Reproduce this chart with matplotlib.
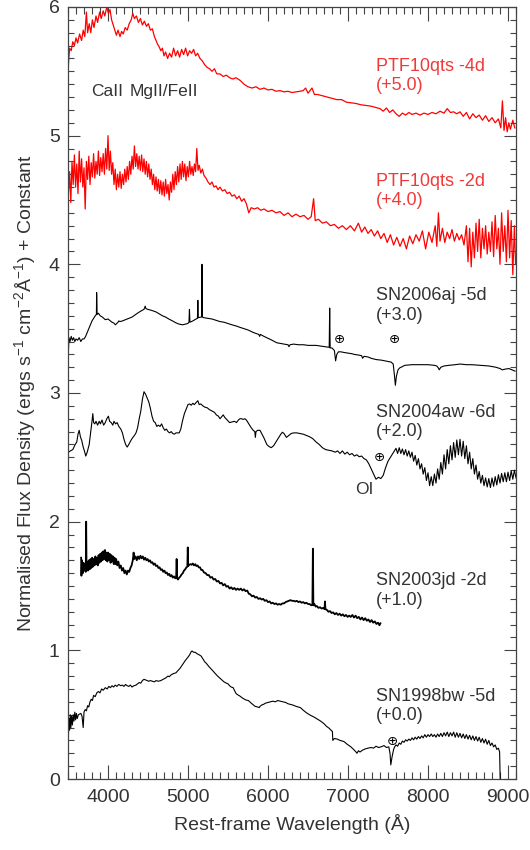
import numpy as np
import matplotlib
matplotlib.use("Agg")
import matplotlib.pyplot as plt
from matplotlib.ticker import MultipleLocator

plt.rcParams["font.family"] = ["Liberation Sans", "DejaVu Sans"]
plt.rcParams["mathtext.fontset"] = "custom"
plt.rcParams["mathtext.rm"] = "Liberation Sans"
plt.rcParams["mathtext.default"] = "regular"

# -----------------------------------
# spectra (offset already added)
# -----------------------------------

# PTF10qts -4d (+5.0)
wl_ptf4 = [3505, 3520, 3540, 3560, 3580, 3600, 3620, 3645, 3670, 3690, 3710, 3730, 3745, 3765, 3785,
           3805, 3825, 3850, 3870, 3895, 3915, 3940, 3960, 3985, 4005, 4025, 4045, 4065, 4085, 4105,
           4125, 4150, 4170, 4190, 4215, 4240, 4265, 4290, 4310, 4330, 4355, 4380, 4405, 4430, 4455,
           4480, 4505, 4530, 4555, 4580, 4600, 4620, 4640, 4660, 4680, 4700, 4720, 4745, 4770, 4795,
           4820, 4845, 4870, 4895, 4920, 4945, 4970, 4995, 5020, 5045, 5070, 5095, 5120, 5150, 5180,
           5210, 5240, 5270, 5300, 5330, 5360, 5400, 5440, 5480, 5520, 5560, 5600, 5650, 5700, 5750,
           5800, 5850, 5900, 5950, 6000, 6050, 6100, 6150, 6200, 6250, 6300, 6350, 6400, 6440, 6470,
           6500, 6550, 6580, 6620, 6680, 6740, 6800, 6860, 6920, 6980, 7040, 7100, 7160, 7220, 7280,
           7340, 7400, 7440, 7480, 7520, 7560, 7600, 7640, 7680, 7720, 7760, 7800, 7850, 7900, 7950,
           8000, 8050, 8100, 8150, 8200, 8240, 8280, 8320, 8360, 8400, 8440, 8480, 8520, 8560, 8600,
           8640, 8680, 8720, 8760, 8800, 8840, 8880, 8910, 8930, 8950, 8970, 8990, 9010, 9030, 9060,
           9085]
fl_ptf4 = [5.55, 5.68, 5.66, 5.73, 5.70, 5.76, 5.72, 5.79, 5.74, 5.82, 5.77, 5.96, 5.80, 5.87, 5.80,
           5.90, 5.84, 5.93, 5.88, 5.96, 5.91, 5.97, 5.93, 6.00, 5.95, 5.98, 5.90, 5.86, 5.82, 5.78,
           5.82, 5.77, 5.81, 5.79, 5.84, 5.82, 5.87, 5.90, 5.95, 5.91, 5.93, 5.88, 5.91, 5.86, 5.89,
           5.85, 5.87, 5.82, 5.83, 5.77, 5.74, 5.71, 5.69, 5.66, 5.68, 5.62, 5.65, 5.60, 5.64, 5.61,
           5.68, 5.62, 5.66, 5.61, 5.67, 5.63, 5.68, 5.62, 5.66, 5.64, 5.67, 5.62, 5.64, 5.60, 5.58,
           5.55, 5.53, 5.52, 5.50, 5.52, 5.48, 5.48, 5.46, 5.47, 5.45, 5.44, 5.45, 5.43, 5.40, 5.38,
           5.37, 5.38, 5.36, 5.37, 5.355, 5.36, 5.345, 5.35, 5.34, 5.345, 5.335, 5.34, 5.345, 5.35, 5.37,
           5.33, 5.37, 5.32, 5.32, 5.31, 5.30, 5.29, 5.28, 5.28, 5.26, 5.255, 5.25, 5.24, 5.235, 5.23,
           5.22, 5.21, 5.19, 5.215, 5.18, 5.20, 5.17, 5.15, 5.175, 5.16, 5.18, 5.165, 5.175, 5.16, 5.175,
           5.165, 5.18, 5.17, 5.19, 5.175, 5.21, 5.18, 5.185, 5.17, 5.185, 5.15, 5.18, 5.13, 5.17, 5.14,
           5.16, 5.12, 5.155, 5.11, 5.14, 5.10, 5.13, 5.06, 5.27, 5.04, 5.14, 5.03, 5.10, 5.05, 5.12,
           5.06]

# PTF10qts -2d (+4.0)
wl_ptf2 = [3505, 3520, 3535, 3550, 3565, 3580, 3595, 3610, 3625, 3640, 3655, 3670, 3685, 3700, 3715,
           3730, 3745, 3760, 3775, 3790, 3805, 3820, 3835, 3850, 3865, 3880, 3895, 3910, 3925, 3940,
           3955, 3970, 3985, 4000, 4015, 4030, 4045, 4060, 4075, 4090, 4105, 4120, 4135, 4150, 4165,
           4180, 4195, 4210, 4225, 4240, 4255, 4270, 4285, 4300, 4315, 4330, 4345, 4360, 4375, 4390,
           4405, 4420, 4435, 4450, 4465, 4480, 4495, 4510, 4525, 4540, 4555, 4570, 4585, 4600, 4615,
           4630, 4645, 4660, 4675, 4690, 4705, 4720, 4735, 4750, 4765, 4780, 4795, 4810, 4825, 4840,
           4855, 4870, 4885, 4900, 4915, 4930, 4945, 4960, 4975, 4990, 5005, 5020, 5035, 5050, 5065,
           5080, 5095, 5110, 5125, 5140, 5160, 5180, 5200, 5225, 5250, 5275, 5300, 5325, 5350, 5375,
           5400, 5430, 5460, 5490, 5520, 5550, 5580, 5610, 5640, 5670, 5700, 5730, 5760, 5790, 5830,
           5870, 5910, 5950, 6000, 6050, 6100, 6150, 6200, 6250, 6300, 6350, 6400, 6450, 6500, 6540,
           6570, 6590, 6630, 6680, 6730, 6780, 6830, 6880, 6930, 6980, 7030, 7080, 7130, 7170, 7210,
           7250, 7290, 7330, 7370, 7410, 7450, 7490, 7530, 7570, 7610, 7650, 7690, 7730, 7770, 7810,
           7850, 7890, 7930, 7970, 8010, 8050, 8090, 8110, 8130, 8150, 8180, 8210, 8240, 8270, 8300,
           8330, 8360, 8390, 8420, 8450, 8480, 8500, 8520, 8540, 8560, 8580, 8600, 8620, 8640, 8660,
           8680, 8700, 8720, 8740, 8760, 8780, 8800, 8820, 8840, 8860, 8880, 8900, 8920, 8940, 8960,
           8980, 9000, 9020, 9040, 9060, 9080, 9095]
fl_ptf2 = [4.55, 4.72, 4.48, 4.80, 4.62, 4.85, 4.60, 4.78, 4.55, 4.88, 4.64, 4.82, 4.60, 4.75, 4.43,
           4.80, 4.66, 4.84, 4.62, 4.79, 4.68, 4.86, 4.67, 4.80, 4.70, 4.88, 4.69, 4.83, 4.72, 4.86,
           4.70, 4.90, 4.74, 5.00, 4.73, 4.88, 4.70, 4.79, 4.62, 4.74, 4.58, 4.70, 4.60, 4.72, 4.59,
           4.70, 4.62, 4.74, 4.64, 4.76, 4.66, 4.80, 4.70, 4.84, 4.74, 4.92, 4.76, 4.86, 4.74, 4.84,
           4.73, 4.85, 4.72, 4.82, 4.70, 4.80, 4.68, 4.78, 4.66, 4.74, 4.62, 4.70, 4.58, 4.68, 4.57,
           4.66, 4.55, 4.65, 4.54, 4.64, 4.53, 4.66, 4.55, 4.62, 4.50, 4.64, 4.56, 4.70, 4.58, 4.72,
           4.62, 4.76, 4.64, 4.78, 4.66, 4.80, 4.68, 4.78, 4.65, 4.76, 4.68, 4.80, 4.70, 4.76, 4.69,
           4.78, 4.72, 4.90, 4.73, 4.77, 4.71, 4.74, 4.69, 4.67, 4.64, 4.62, 4.64, 4.60, 4.61, 4.58,
           4.60, 4.57, 4.58, 4.55, 4.56, 4.53, 4.54, 4.51, 4.53, 4.49, 4.51, 4.47, 4.40, 4.44, 4.43,
           4.44, 4.42, 4.43, 4.41, 4.42, 4.40, 4.41, 4.38, 4.40, 4.37, 4.39, 4.37, 4.38, 4.35, 4.37,
           4.51, 4.34, 4.35, 4.32, 4.33, 4.30, 4.31, 4.28, 4.30, 4.27, 4.30, 4.26, 4.32, 4.25, 4.29,
           4.24, 4.27, 4.22, 4.26, 4.20, 4.24, 4.17, 4.23, 4.15, 4.21, 4.14, 4.20, 4.12, 4.22, 4.16,
           4.23, 4.18, 4.26, 4.12, 4.25, 4.17, 4.30, 4.14, 4.40, 4.18, 4.28, 4.17, 4.25, 4.20, 4.27,
           4.18, 4.24, 4.19, 4.23, 4.15, 4.30, 4.02, 4.28, 3.98, 4.25, 4.05, 4.32, 4.10, 4.35, 4.05,
           4.28, 4.12, 4.30, 4.08, 4.25, 4.10, 4.33, 4.06, 4.38, 4.12, 4.28, 4.00, 4.40, 4.10, 4.30,
           4.02, 4.42, 4.05, 4.34, 3.92, 4.30, 4.00]

# SN2006aj -5d (+3.0)
wl_06aj = [3505, 3512, 3525, 3540, 3555, 3570, 3585, 3600, 3620, 3640, 3660, 3680, 3700, 3720, 3740,
           3760, 3780, 3800, 3820, 3840, 3855, 3858, 3864, 3880, 3903, 3930, 3966, 4000, 4030, 4050,
           4070, 4093, 4110, 4125, 4135, 4150, 4180, 4219, 4260, 4300, 4345, 4380, 4420, 4450, 4465,
           4475, 4500, 4530, 4555, 4600, 4640, 4681, 4720, 4760, 4807, 4850, 4890, 4933, 4965, 4997,
           5012, 5018, 5024, 5060, 5100, 5118, 5123, 5128, 5160, 5170, 5175, 5180, 5200, 5250, 5300,
           5350, 5400, 5450, 5500, 5550, 5606, 5650, 5700, 5750, 5817, 5860, 5885, 5895, 5905, 5950,
           6000, 6050, 6111, 6160, 6200, 6250, 6262, 6275, 6320, 6380, 6447, 6500, 6550, 6600, 6658,
           6720, 6765, 6771, 6777, 6800, 6830, 6845, 6860, 6880, 6910, 6950, 7000, 7050, 7078, 7130,
           7170, 7183, 7200, 7250, 7288, 7350, 7420, 7499, 7540, 7565, 7580, 7592, 7605, 7625, 7646,
           7680, 7709, 7800, 7919, 8000, 8080, 8110, 8129, 8140, 8160, 8200, 8260, 8340, 8400, 8480,
           8550, 8650, 8760, 8850, 8900, 8928, 8960, 9012, 9050, 9088]
fl_06aj = [3.32, 3.43, 3.40, 3.44, 3.41, 3.43, 3.40, 3.42, 3.41, 3.43, 3.40, 3.42, 3.42, 3.44, 3.47,
           3.50, 3.53, 3.56, 3.58, 3.60, 3.61, 3.78, 3.61, 3.62, 3.60, 3.59, 3.57, 3.575, 3.56, 3.55,
           3.545, 3.53, 3.54, 3.55, 3.56, 3.555, 3.56, 3.57, 3.58, 3.59, 3.61, 3.625, 3.64, 3.65, 3.675,
           3.655, 3.65, 3.645, 3.64, 3.63, 3.615, 3.60, 3.59, 3.575, 3.56, 3.545, 3.535, 3.53, 3.535, 3.54,
           3.55, 3.65, 3.55, 3.56, 3.575, 3.58, 3.72, 3.585, 3.59, 3.59, 4.00, 3.59, 3.585, 3.58, 3.575,
           3.565, 3.555, 3.55, 3.54, 3.53, 3.52, 3.51, 3.50, 3.49, 3.47, 3.46, 3.455, 3.44, 3.455, 3.44,
           3.425, 3.41, 3.39, 3.385, 3.38, 3.375, 3.36, 3.375, 3.38, 3.375, 3.375, 3.37, 3.37, 3.37, 3.365,
           3.36, 3.355, 3.66, 3.35, 3.35, 3.33, 3.25, 3.30, 3.32, 3.32, 3.315, 3.31, 3.305, 3.30, 3.295,
           3.29, 3.27, 3.285, 3.28, 3.27, 3.26, 3.255, 3.245, 3.24, 3.225, 3.14, 3.06, 3.13, 3.18, 3.195,
           3.205, 3.215, 3.22, 3.22, 3.22, 3.215, 3.21, 3.195, 3.18, 3.20, 3.21, 3.215, 3.22, 3.225, 3.22,
           3.22, 3.215, 3.21, 3.20, 3.19, 3.18, 3.185, 3.19, 3.18, 3.17]

# SN2004aw -6d (+2.0)
wl_04aw = [3505, 3530, 3560, 3590, 3610, 3625, 3640, 3655, 3672, 3690, 3705, 3722, 3740, 3765, 3785,
           3800, 3810, 3820, 3835, 3850, 3870, 3890, 3905, 3925, 3945, 3966, 3985, 4005, 4020, 4040,
           4060, 4075, 4095, 4114, 4135, 4160, 4180, 4200, 4220, 4240, 4260, 4285, 4305, 4330, 4350,
           4370, 4390, 4410, 4430, 4450, 4470, 4490, 4510, 4530, 4550, 4570, 4590, 4610, 4630, 4650,
           4670, 4690, 4710, 4730, 4750, 4770, 4790, 4810, 4830, 4850, 4870, 4890, 4910, 4930, 4955,
           4980, 5000, 5020, 5040, 5060, 5080, 5100, 5123, 5140, 5160, 5186, 5210, 5240, 5270, 5300,
           5330, 5354, 5380, 5400, 5420, 5440, 5460, 5490, 5520, 5550, 5580, 5606, 5630, 5650, 5670,
           5690, 5710, 5730, 5760, 5790, 5815, 5835, 5842, 5850, 5870, 5900, 5925, 5950, 5985, 6010,
           6040, 6070, 6100, 6130, 6160, 6180, 6200, 6230, 6260, 6290, 6320, 6360, 6400, 6440, 6480,
           6520, 6560, 6600, 6640, 6680, 6720, 6760, 6800, 6840, 6870, 6900, 6930, 6960, 6990, 7020,
           7050, 7080, 7110, 7140, 7170, 7200, 7230, 7260, 7290, 7320, 7350, 7380, 7410, 7440, 7470,
           7500, 7530, 7560, 7580,
           7600, 7620, 7640, 7660, 7680, 7700, 7720, 7740, 7760, 7780, 7800, 7820, 7840, 7860, 7880,
           7900, 7920, 7940, 7960, 7980, 8000, 8020, 8040, 8060, 8080, 8100, 8120, 8140, 8160, 8180,
           8200, 8220, 8240, 8260, 8280, 8300, 8320, 8340, 8360, 8380, 8400, 8420, 8440, 8460, 8480,
           8500, 8520, 8540, 8560, 8580, 8600, 8620, 8640, 8660, 8680, 8700, 8720, 8740, 8760, 8780,
           8800, 8820, 8840, 8860, 8880, 8900, 8920, 8940, 8960, 8980, 9000, 9020, 9040, 9060, 9080,
           9100]
fl_04aw = [2.54, 2.55, 2.56, 2.60, 2.62, 2.68, 2.71, 2.66, 2.63, 2.58, 2.55, 2.51, 2.54, 2.60, 2.70,
           2.78, 2.84, 2.77, 2.76, 2.78, 2.75, 2.78, 2.76, 2.79, 2.75, 2.77, 2.80, 2.82, 2.78, 2.77,
           2.75, 2.78, 2.76, 2.77, 2.74, 2.72, 2.69, 2.64, 2.60, 2.58, 2.60, 2.63, 2.65, 2.67, 2.69,
           2.73, 2.80, 2.86, 2.95, 3.01, 2.99, 2.96, 2.93, 2.88, 2.82, 2.78, 2.77, 2.74, 2.75, 2.74,
           2.76, 2.73, 2.71, 2.72, 2.70, 2.69, 2.70, 2.685, 2.68, 2.69, 2.69, 2.69, 2.72, 2.78, 2.84,
           2.88, 2.91, 2.915, 2.905, 2.92, 2.91, 2.925, 2.94, 2.91, 2.915, 2.90, 2.89, 2.885, 2.87, 2.86,
           2.85, 2.83, 2.82, 2.80, 2.815, 2.83, 2.81, 2.79, 2.77, 2.775, 2.78, 2.77, 2.79, 2.80, 2.80,
           2.795, 2.80, 2.79, 2.76, 2.73, 2.71, 2.70, 2.655, 2.70, 2.71, 2.71, 2.68, 2.65, 2.60, 2.585,
           2.575, 2.59, 2.62, 2.65, 2.68, 2.695, 2.685, 2.655, 2.67, 2.685, 2.69, 2.69, 2.685, 2.68, 2.67,
           2.66, 2.645, 2.62, 2.60, 2.575, 2.56, 2.555, 2.55, 2.54, 2.55, 2.53, 2.55, 2.525, 2.54, 2.52,
           2.53, 2.51, 2.52, 2.505, 2.51, 2.49, 2.48, 2.45, 2.41, 2.37, 2.33, 2.345, 2.335, 2.36, 2.42,
           2.47, 2.50, 2.53, 2.55,
           2.57, 2.53, 2.575, 2.53, 2.565, 2.52, 2.56, 2.51, 2.55, 2.50, 2.54, 2.47, 2.515, 2.44, 2.49,
           2.41, 2.45, 2.37, 2.42, 2.32, 2.38, 2.28, 2.35, 2.28, 2.37, 2.30, 2.41, 2.33, 2.46, 2.37,
           2.52, 2.41, 2.56, 2.45, 2.59, 2.48, 2.615, 2.50, 2.635, 2.52, 2.64, 2.51, 2.625, 2.49, 2.59,
           2.45, 2.54, 2.41, 2.49, 2.37, 2.44, 2.33, 2.39, 2.30, 2.36, 2.28, 2.34, 2.27, 2.335, 2.265,
           2.34, 2.275, 2.35, 2.285, 2.365, 2.30, 2.375, 2.31, 2.38, 2.31, 2.385, 2.32, 2.395, 2.33, 2.40,
           2.34]

# SN2003jd -2d (+1.0)
wl_03jd = [3664, 3668, 3675, 3685, 3695, 3705, 3715, 3722, 3727, 3732, 3742, 3752, 3762, 3772, 3782,
           3792, 3802, 3812, 3822, 3832, 3842, 3852, 3862, 3872, 3882, 3892, 3902, 3912, 3922, 3932,
           3942, 3952, 3962, 3972, 3982, 3992, 4002, 4012, 4022, 4032, 4042, 4052, 4062, 4072, 4082,
           4092, 4102, 4115, 4130, 4145, 4160, 4175, 4190, 4205, 4220, 4235, 4250, 4265, 4280, 4295,
           4310, 4320, 4330, 4345, 4360, 4375, 4390, 4405, 4420, 4435, 4450, 4465, 4480, 4495, 4510,
           4525, 4540, 4555, 4570, 4585, 4600, 4615, 4630, 4645, 4660, 4675, 4690, 4705, 4720, 4735,
           4750, 4765, 4780, 4795, 4810, 4825, 4840, 4852, 4858, 4864, 4875, 4890, 4905, 4920, 4935,
           4950, 4965, 4980, 4992, 4997, 5002, 5015, 5030, 5045, 5060, 5075, 5090, 5105, 5120, 5135,
           5150, 5165, 5180, 5200, 5220, 5240, 5260, 5280, 5300, 5320, 5340, 5360, 5380, 5400, 5420,
           5440, 5460, 5480, 5500, 5520, 5540, 5560, 5580, 5600, 5620, 5640, 5660, 5680, 5700, 5720,
           5740, 5760, 5780, 5800, 5820, 5840, 5860, 5880, 5900, 5920, 5940, 5960, 5980, 6000, 6020,
           6040, 6060, 6080, 6100, 6120, 6140, 6160, 6180, 6200, 6220, 6240, 6260, 6280, 6300, 6320,
           6340, 6360, 6380, 6400, 6420, 6440, 6460, 6480, 6500, 6520, 6540, 6555, 6561, 6567, 6580,
           6595, 6610, 6630, 6650, 6670, 6690, 6706, 6712, 6718, 6735, 6755, 6775, 6795, 6815, 6835,
           6855, 6875, 6895, 6915, 6935, 6955, 6975, 6995, 7015, 7035, 7055, 7075, 7095, 7115, 7135,
           7155, 7175, 7195, 7215, 7235, 7255, 7275, 7295, 7315, 7335, 7355, 7375, 7393, 7405]
fl_03jd = [1.72, 1.58, 1.70, 1.60, 1.68, 1.62, 1.66, 1.61, 2.00, 1.62, 1.69, 1.62, 1.70, 1.63, 1.71,
           1.64, 1.72, 1.65, 1.71, 1.66, 1.73, 1.67, 1.72, 1.66, 1.74, 1.68, 1.75, 1.69, 1.76, 1.70,
           1.77, 1.71, 1.78, 1.70, 1.76, 1.69, 1.76, 1.70, 1.75, 1.68, 1.74, 1.69, 1.73, 1.67, 1.72,
           1.67, 1.71, 1.66, 1.69, 1.64, 1.66, 1.62, 1.64, 1.60, 1.62, 1.59, 1.62, 1.61, 1.64, 1.66,
           1.70, 1.76, 1.71, 1.73, 1.70, 1.73, 1.71, 1.735, 1.715, 1.73, 1.705, 1.72, 1.70, 1.71, 1.69,
           1.70, 1.68, 1.685, 1.665, 1.675, 1.655, 1.66, 1.64, 1.645, 1.625, 1.63, 1.61, 1.62, 1.60, 1.605,
           1.585, 1.595, 1.575, 1.585, 1.565, 1.575, 1.56, 1.565, 1.71, 1.56, 1.55, 1.565, 1.575, 1.59, 1.60,
           1.62, 1.63, 1.645, 1.65, 1.80, 1.655, 1.665, 1.67, 1.665, 1.675, 1.66, 1.67, 1.655, 1.66, 1.645,
           1.645, 1.625, 1.625, 1.605, 1.60, 1.585, 1.585, 1.565, 1.57, 1.55, 1.555, 1.535, 1.54, 1.52, 1.525,
           1.505, 1.515, 1.495, 1.50, 1.48, 1.49, 1.475, 1.485, 1.47, 1.48, 1.47, 1.48, 1.465, 1.475, 1.46,
           1.465, 1.44, 1.435, 1.42, 1.425, 1.41, 1.415, 1.40, 1.405, 1.395, 1.40, 1.385, 1.39, 1.375, 1.38,
           1.365, 1.37, 1.36, 1.365, 1.355, 1.36, 1.355, 1.365, 1.365, 1.375, 1.38, 1.385, 1.39, 1.385, 1.385,
           1.38, 1.385, 1.375, 1.38, 1.37, 1.375, 1.365, 1.37, 1.36, 1.36, 1.35, 1.355, 1.79, 1.35, 1.36,
           1.34, 1.345, 1.33, 1.335, 1.325, 1.33, 1.32, 1.38, 1.32, 1.315, 1.30, 1.305, 1.29, 1.295, 1.28,
           1.29, 1.275, 1.285, 1.27, 1.28, 1.265, 1.275, 1.26, 1.27, 1.26, 1.275, 1.255, 1.27, 1.25, 1.26,
           1.24, 1.255, 1.235, 1.25, 1.23, 1.24, 1.22, 1.235, 1.215, 1.225, 1.205, 1.215, 1.195, 1.21]

# SN1998bw -5d (+0.0)
wl_98bw = [3505, 3512, 3520, 3528, 3536, 3545, 3555, 3565, 3575, 3585, 3595, 3605, 3615, 3630, 3660,
           3675, 3690, 3700, 3715, 3730, 3745, 3760, 3775, 3790, 3805, 3820, 3840, 3860, 3880, 3900,
           3920, 3940, 3966, 3990, 4010, 4030, 4050, 4070, 4090, 4110, 4135, 4160, 4180, 4200, 4219,
           4240, 4260, 4280, 4300, 4324, 4350, 4370, 4390, 4410, 4430, 4450, 4471, 4490, 4510, 4530,
           4555, 4580, 4600, 4630, 4660, 4690, 4720, 4750, 4765, 4790, 4820, 4849, 4870, 4900, 4933,
           4965, 4997, 5020, 5040, 5051, 5070, 5090, 5110, 5140, 5165, 5190, 5210, 5228, 5260, 5290,
           5312, 5340, 5370, 5396, 5420, 5450, 5480, 5500, 5520, 5540, 5564, 5580, 5600, 5620, 5648,
           5680, 5720, 5754, 5790, 5820, 5838, 5870, 5890, 5901, 5920, 5943, 5970, 6000, 6027, 6060,
           6090, 6120, 6153, 6190, 6220, 6250, 6279, 6310, 6350, 6405, 6440, 6480, 6532, 6580, 6620,
           6658, 6700, 6730, 6763, 6795, 6805, 6810, 6830, 6868, 6900, 6930, 6952, 6990, 7036, 7070,
           7100, 7112, 7130, 7150, 7183, 7220, 7250, 7288, 7320, 7350, 7380, 7414, 7450, 7480, 7510,
           7525, 7535, 7550, 7570, 7583, 7600, 7620, 7640, 7660, 7680, 7700, 7720, 7740, 7760, 7780,
           7800, 7820, 7840, 7860, 7880, 7900, 7920, 7940, 7960, 7980, 8000, 8020, 8040, 8060, 8080,
           8100, 8120, 8140, 8160, 8180, 8200, 8220, 8240, 8260, 8280, 8300, 8320, 8340, 8360, 8380,
           8400, 8420, 8440, 8460, 8480, 8500, 8520, 8540, 8560, 8580, 8600, 8620, 8640, 8660, 8680,
           8700, 8720, 8740, 8760, 8780, 8800, 8820, 8840, 8860, 8880, 8895, 8902]
fl_98bw = [0.33, 0.47, 0.38, 0.50, 0.40, 0.49, 0.42, 0.50, 0.45, 0.52, 0.46, 0.51, 0.47, 0.50, 0.51,
           0.49, 0.40, 0.52, 0.54, 0.53, 0.57, 0.56, 0.60, 0.62, 0.61, 0.65, 0.64, 0.67, 0.68, 0.67,
           0.70, 0.69, 0.71, 0.70, 0.72, 0.71, 0.725, 0.715, 0.73, 0.72, 0.735, 0.725, 0.73, 0.72, 0.735,
           0.725, 0.72, 0.73, 0.715, 0.725, 0.73, 0.74, 0.75, 0.745, 0.765, 0.775, 0.77, 0.765, 0.76, 0.765,
           0.76, 0.755, 0.765, 0.76, 0.765, 0.775, 0.785, 0.80, 0.795, 0.81, 0.82, 0.825, 0.84, 0.86, 0.89,
           0.92, 0.945, 0.965, 0.99, 0.995, 0.985, 0.985, 0.975, 0.965, 0.955, 0.93, 0.91, 0.90, 0.875, 0.855,
           0.84, 0.82, 0.80, 0.785, 0.77, 0.755, 0.745, 0.74, 0.725, 0.715, 0.71, 0.69, 0.665, 0.655, 0.645,
           0.63, 0.615, 0.61, 0.59, 0.575, 0.565, 0.56, 0.555, 0.565, 0.575, 0.58, 0.59, 0.595, 0.60, 0.605,
           0.60, 0.61, 0.605, 0.60, 0.595, 0.585, 0.58, 0.575, 0.565, 0.555, 0.535, 0.515, 0.495, 0.48, 0.465,
           0.45, 0.43, 0.41, 0.395, 0.375, 0.37, 0.30, 0.315, 0.31, 0.30, 0.295, 0.29, 0.27, 0.25, 0.23,
           0.21, 0.20, 0.22, 0.21, 0.225, 0.235, 0.24, 0.245, 0.24, 0.255, 0.245, 0.25, 0.26, 0.245, 0.25,
           0.20, 0.11, 0.17, 0.23, 0.25, 0.265, 0.255, 0.28, 0.27, 0.295, 0.285, 0.305, 0.295, 0.31, 0.30,
           0.32, 0.305, 0.325, 0.31, 0.33, 0.315, 0.335, 0.32, 0.345, 0.325, 0.345, 0.33, 0.35, 0.33, 0.345,
           0.325, 0.35, 0.33, 0.355, 0.33, 0.36, 0.335, 0.365, 0.33, 0.36, 0.335, 0.365, 0.325, 0.36, 0.325,
           0.355, 0.32, 0.35, 0.315, 0.345, 0.31, 0.34, 0.305, 0.335, 0.30, 0.33, 0.295, 0.325, 0.285, 0.315,
           0.28, 0.31, 0.27, 0.30, 0.26, 0.28, 0.25, 0.265, 0.23, 0.24, 0.21, 0.005]

# spectrum, colour, line width
spectra = [(wl_ptf4, fl_ptf4, "#ff0000", 0.9),
           (wl_ptf2, fl_ptf2, "#ff0000", 0.9),
           (wl_06aj, fl_06aj, "black", 0.8),
           (wl_04aw, fl_04aw, "black", 0.8),
           (wl_03jd, fl_03jd, "black", 1.3),
           (wl_98bw, fl_98bw, "black", 0.8)]

# labels and their top-line y
names = ["PTF10qts -4d", "PTF10qts -2d", "SN2006aj -5d", "SN2004aw -6d", "SN2003jd -2d", "SN1998bw -5d"]
offsets = ["(+5.0)", "(+4.0)", "(+3.0)", "(+2.0)", "(+1.0)", "(+0.0)"]
label_y = [5.54, 4.645, 3.755, 2.85, 1.54, 0.64]

# telluric markers
tell_x = [6890, 7585, 7395, 7550]
tell_y = [3.415, 3.415, 2.50, 0.295]

txt_dark = "#333333"
txt_red = "#f03a3a"

fig = plt.figure(figsize=(5.3, 8.5), dpi=100)
ax = fig.add_axes([0.1283, 0.0835, 0.8453, 0.9083])

for wl, fl, c, lw in spectra:
    ax.plot(wl, fl, color=c, lw=lw)

for i in range(len(names)):
    c = txt_red if i < 2 else txt_dark
    ax.text(7350, label_y[i], names[i], color=c, fontsize=13, ha="left", va="center")
    ax.text(7350, label_y[i] - 0.15, offsets[i], color=c, fontsize=13, ha="left", va="center")

for x, y in zip(tell_x, tell_y):
    ax.text(x, y, "\u2295", fontsize=9.5, family="DejaVu Sans", color="black",
            ha="center", va="center")

ax.text(7205, 2.25, "OI", fontsize=12.5, color=txt_dark, ha="center", va="center")
ax.text(3990, 5.345, "CaII", fontsize=12.5, color=txt_dark, ha="center", va="center")
ax.text(4700, 5.345, "MgII/FeII", fontsize=12.5, color=txt_dark, ha="center", va="center")

ax.set_xlim(3500, 9100)
ax.set_ylim(0, 6)
ax.xaxis.set_major_locator(MultipleLocator(1000))
ax.xaxis.set_minor_locator(MultipleLocator(100))
ax.yaxis.set_major_locator(MultipleLocator(1))
ax.yaxis.set_minor_locator(MultipleLocator(0.1))

ax.tick_params(which="both", direction="in", top=True, right=True, colors="#444444",
               labelcolor=txt_dark, labelsize=14, width=0.8)
ax.tick_params(axis="x", which="major", length=10, pad=7)
ax.tick_params(axis="x", which="minor", length=5)
ax.tick_params(axis="y", which="major", length=8.5, pad=6)
ax.tick_params(axis="y", which="minor", length=4.2)
for s in ax.spines.values():
    s.set_linewidth(0.9)
    s.set_color("#444444")

ax.set_xlabel("Rest-frame Wavelength (\u00c5)", fontsize=14, color=txt_dark, labelpad=6)
ax.set_ylabel("Normalised Flux Density (ergs s$^{-1}$ cm$^{-2}$\u00c5$^{-1}$) + Constant",
              fontsize=14, color=txt_dark, labelpad=8)

# end labels sit inside the axis like in the original
fig.canvas.draw()
ylabs = ax.get_yticklabels()
ylabs[0].set_va("bottom")
ylabs[-1].set_va("top")

fig.savefig("out.png", dpi=100)
